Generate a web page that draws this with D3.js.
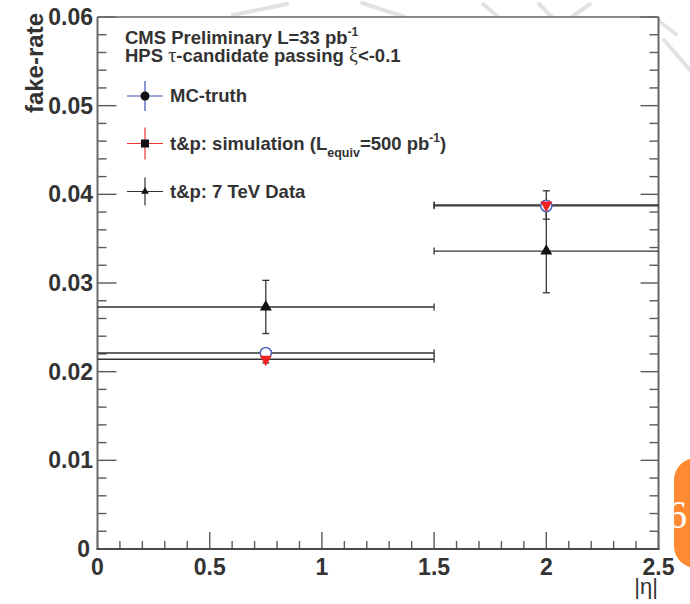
<!DOCTYPE html>
<html>
<head>
<meta charset="utf-8">
<script src="https://cdn.jsdelivr.net/npm/d3@7"></script>
<style>
  body { margin: 0; background: #fff; }
  svg { display: block; }
  text { font-family: "Liberation Sans", Arial, Helvetica, sans-serif; }
</style>
</head>
<body>
<svg id="chart" width="690" height="604"></svg>
<script>
// |eta| bins and fake-rate per bin
const binEdges = [0, 1.5, 2.5];
const binCenters = [0.75, 2.0];
const mcTruth = [0.0221, 0.0387];
const mcTruthErr = [0.0003, 0.0005];
const tpSim = [0.0214, 0.0388];
const tpSimErr = [0.0004, 0.0016];
const tpData = [0.0273, 0.0336];
const tpDataErr = [0.0030, 0.0047];

const xTickValues = [0, 0.5, 1, 1.5, 2, 2.5];
const xTickLabels = ["0", "0.5", "1", "1.5", "2", "2.5"];
const yTickValues = [0, 0.01, 0.02, 0.03, 0.04, 0.05, 0.06];
const yTickLabels = ["0", "0.01", "0.02", "0.03", "0.04", "0.05", "0.06"];

const svg = d3.select("#chart");
const W = 690, H = 604;
const frame = { left: 97.5, right: 658.5, top: 17, bottom: 549 };

const x = d3.scaleLinear().domain([0, 2.5]).range([frame.left, frame.right]);
const y = d3.scaleLinear().domain([0, 0.06]).range([frame.bottom, frame.top]);

// faint sunburst rays of the slide background
const rays = [
  [[233, 15], [287, 4]],
  [[362, 3], [405, 17]],
  [[483, 4], [497, 16]],
  [[539, 4], [552, 17]],
  [[590, 4], [573, 16]],
  [[656, 19], [676, 34]],
  [[664, 40], [690, 70]]
];
svg.append("g").selectAll("path").data(rays).join("path")
  .attr("d", d => d3.line().curve(d3.curveBasis)(d))
  .attr("stroke", "#e2e2e2").attr("stroke-width", 4).attr("fill", "none")
  .attr("stroke-linecap", "round");

// orange page badge at the right edge
svg.append("rect").attr("x", 674).attr("y", 458).attr("width", 50).attr("height", 110)
  .attr("rx", 22).attr("fill", "#ff8a33");
svg.append("text").attr("x", 667).attr("y", 528)
  .style("font-family", "'Liberation Serif', 'DejaVu Serif', serif")
  .style("font-size", "40px").attr("fill", "#fff").text("6");

// plot area
svg.append("rect").attr("x", frame.left).attr("y", frame.top)
  .attr("width", frame.right - frame.left).attr("height", frame.bottom - frame.top)
  .attr("fill", "#fff");

const axisColor = "#5a5a5a";

// x minor/major ticks (pointing up into the plot)
const xMinor = d3.range(0, 2.5001, 0.1).map(v => +v.toFixed(2));
svg.append("g").selectAll("line").data(xMinor).join("line")
  .attr("x1", d => x(d)).attr("x2", d => x(d))
  .attr("y1", frame.bottom)
  .attr("y2", d => frame.bottom - (Math.abs(d * 2 - Math.round(d * 2)) < 1e-6 ? 17 : 8))
  .attr("stroke", axisColor).attr("stroke-width", 1.4);

// y minor/major ticks on left and right
const yMinor = d3.range(0, 0.06001, 0.002).map(v => +v.toFixed(4));
const isMajorY = d => Math.abs(d * 100 - Math.round(d * 100)) < 1e-6;
svg.append("g").selectAll("line").data(yMinor).join("line")
  .attr("x1", frame.left).attr("x2", d => frame.left + (isMajorY(d) ? 19 : 9))
  .attr("y1", d => y(d)).attr("y2", d => y(d))
  .attr("stroke", axisColor).attr("stroke-width", 1.4);
svg.append("g").selectAll("line").data(yMinor).join("line")
  .attr("x1", frame.right).attr("x2", d => frame.right - (isMajorY(d) ? 18 : 9))
  .attr("y1", d => y(d)).attr("y2", d => y(d))
  .attr("stroke", axisColor).attr("stroke-width", 1.4);

// frame
svg.append("line").attr("x1", frame.left).attr("x2", frame.right)
  .attr("y1", frame.top).attr("y2", frame.top).attr("stroke", "#666").attr("stroke-width", 1.5);
svg.append("line").attr("x1", frame.right).attr("x2", frame.right)
  .attr("y1", frame.top).attr("y2", frame.bottom).attr("stroke", "#666").attr("stroke-width", 2);
svg.append("line").attr("x1", frame.left).attr("x2", frame.left)
  .attr("y1", frame.top).attr("y2", frame.bottom).attr("stroke", "#6a6a6a").attr("stroke-width", 2);
svg.append("line").attr("x1", frame.left - 1).attr("x2", frame.right + 1)
  .attr("y1", frame.bottom).attr("y2", frame.bottom).attr("stroke", "#4a4a4a").attr("stroke-width", 2);

// tick labels
const labelStyle = s => s.style("font-size", "23px").style("font-weight", "bold").attr("fill", "#333");
svg.append("g").selectAll("text").data(xTickValues).join("text")
  .attr("x", d => x(d)).attr("y", 575).attr("text-anchor", "middle")
  .text((d, i) => xTickLabels[i]).call(labelStyle);
svg.append("g").selectAll("text").data(yTickValues).join("text")
  .attr("x", d => d === 0 ? 90 : 93).attr("y", d => y(d) + 8).attr("text-anchor", "end")
  .text((d, i) => yTickLabels[i]).call(labelStyle);

// axis titles
svg.append("text").attr("transform", "translate(43,13) rotate(-90)")
  .attr("text-anchor", "end").style("font-size", "24px").style("font-weight", "bold")
  .attr("fill", "#333").text("fake-rate");
svg.append("text").attr("x", 658).attr("y", 594).attr("text-anchor", "end")
  .style("font-size", "22px").attr("fill", "#333").text("|η|");

// horizontal bin-width bars with end caps at interior edges
const lineColor = "#333";
const capH = 3.5;
function binBars(values, width) {
  const g = svg.append("g");
  values.forEach((v, i) => {
    const x0 = x(binEdges[i]), x1 = x(binEdges[i + 1]), yy = y(v);
    g.append("line").attr("x1", x0).attr("x2", x1).attr("y1", yy).attr("y2", yy)
      .attr("stroke", lineColor).attr("stroke-width", width);
    [binEdges[i], binEdges[i + 1]].forEach(e => {
      if (e > 0 && e < 2.5) {
        g.append("line").attr("x1", x(e)).attr("x2", x(e))
          .attr("y1", yy - capH).attr("y2", yy + capH)
          .attr("stroke", lineColor).attr("stroke-width", 1.3);
      }
    });
  });
}
function vertBars(values, errs) {
  const g = svg.append("g");
  values.forEach((v, i) => {
    const xx = x(binCenters[i]), y0 = y(v - errs[i]), y1 = y(v + errs[i]);
    g.append("line").attr("x1", xx).attr("x2", xx).attr("y1", y0).attr("y2", y1)
      .attr("stroke", lineColor).attr("stroke-width", 1.3);
    [y0, y1].forEach(c => g.append("line").attr("x1", xx - 3.5).attr("x2", xx + 3.5)
      .attr("y1", c).attr("y2", c).attr("stroke", lineColor).attr("stroke-width", 1.3));
  });
}

binBars(tpData, 1.4);
binBars(mcTruth, 1.4);
binBars(tpSim, 1.6);
vertBars(tpData, tpDataErr);
vertBars(mcTruth, mcTruthErr);
vertBars(tpSim, tpSimErr);

// markers
const tri = d3.symbol(d3.symbolTriangle, 62);
svg.append("g").selectAll("path").data(tpData).join("path")
  .attr("d", tri).attr("transform", (d, i) => `translate(${x(binCenters[i])},${y(d)})`)
  .attr("fill", "#111");
svg.append("g").selectAll("circle").data(mcTruth).join("circle")
  .attr("cx", (d, i) => x(binCenters[i])).attr("cy", d => y(d)).attr("r", 5.6)
  .attr("fill", "#fff").attr("stroke", "#5566b8").attr("stroke-width", 1.6);
svg.append("g").selectAll("path").data(tpSim).join("path")
  .attr("d", tri).attr("transform", (d, i) => `translate(${x(binCenters[i])},${y(d)}) rotate(180)`)
  .attr("fill", "#ee2222");

// header text
const head = svg.append("g").style("font-size", "18.5px").style("font-weight", "bold").attr("fill", "#333");
const h1 = head.append("text").attr("x", 125).attr("y", 43.5);
h1.append("tspan").text("CMS Preliminary L=33 pb");
h1.append("tspan").attr("dy", -8).style("font-size", "12px").text("-1");
const h2 = head.append("text").attr("x", 125).attr("y", 62);
h2.append("tspan").text("HPS ");
h2.append("tspan").style("font-family", "'Liberation Serif', 'DejaVu Serif', serif").style("font-weight", "normal").style("font-size", "20px").text("τ");
h2.append("tspan").text("-candidate passing ");
h2.append("tspan").style("font-family", "'Liberation Serif', 'DejaVu Serif', serif").style("font-weight", "normal").style("font-size", "20px").text("ξ");
h2.append("tspan").text("<-0.1");

// legend
const legendRows = [
  { y: 96, color: "#3a55b0", half: 15, sym: d3.symbolCircle, size: 64 },
  { y: 143.5, color: "#ee3333", half: 16, sym: d3.symbolSquare, size: 64 },
  { y: 191.5, color: "#333333", half: 14, sym: d3.symbolTriangle, size: 26 }
];
const lg = svg.append("g");
legendRows.forEach(r => {
  lg.append("line").attr("x1", 127).attr("x2", 163).attr("y1", r.y).attr("y2", r.y)
    .attr("stroke", r.color).attr("stroke-width", 1.2);
  lg.append("line").attr("x1", 145).attr("x2", 145).attr("y1", r.y - r.half).attr("y2", r.y + r.half)
    .attr("stroke", r.color).attr("stroke-width", 1.2);
  lg.append("path").attr("d", d3.symbol(r.sym, r.size)).attr("transform", `translate(145,${r.y})`)
    .attr("fill", "#111");
});
const lt = lg.append("g").style("font-size", "18.5px").style("font-weight", "bold").attr("fill", "#333");
lt.append("text").attr("x", 170).attr("y", 102).text("MC-truth");
const l2 = lt.append("text").attr("x", 170).attr("y", 149.5);
l2.append("tspan").text("t&p: simulation (L");
l2.append("tspan").attr("dy", 7).style("font-size", "12.5px").text("equiv");
l2.append("tspan").attr("dy", -7).text("=500 pb");
l2.append("tspan").attr("dy", -8).style("font-size", "12px").text("-1");
l2.append("tspan").attr("dy", 8).text(")");
lt.append("text").attr("x", 170).attr("y", 197.5).text("t&p: 7 TeV Data");
</script>
</body>
</html>
